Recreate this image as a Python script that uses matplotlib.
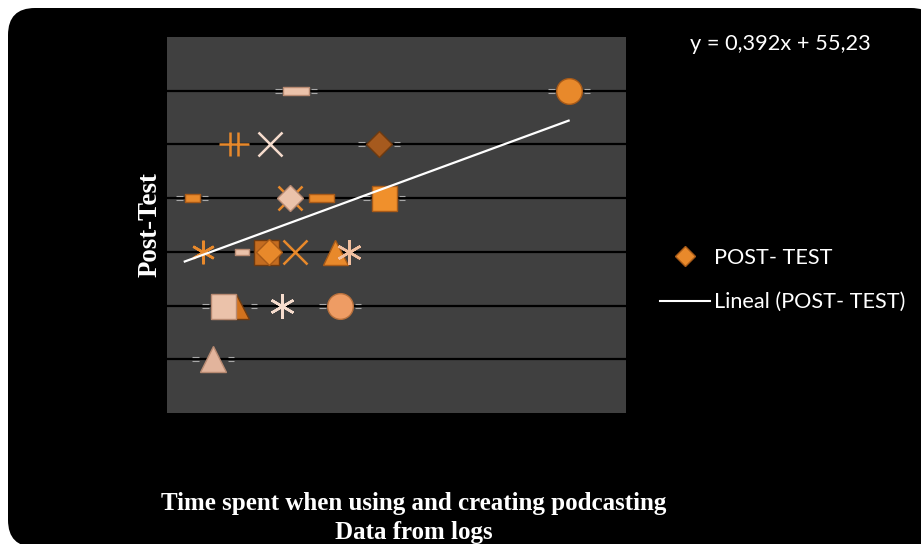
import numpy as np
import matplotlib
matplotlib.use("Agg")
import matplotlib.pyplot as plt
from matplotlib.path import Path
from matplotlib.patches import FancyBboxPatch
from matplotlib.lines import Line2D

# ---------------- data ----------------
post_test_x = [52.4, 100.0,
               41.6, 47.9, 66.9,
               34.3, 51.4, 51.4, 56.8, 67.8,
               36.3, 43.1, 47.3, 47.8, 52.3, 59.3, 61.8,
               42.0, 39.7, 50.1, 60.2,
               38.1]
post_test_y = [100, 100,
               90, 90, 90,
               80, 80, 80, 80, 80,
               70, 70, 70, 70, 70, 70, 70,
               60, 60, 60, 60,
               50]
trend_slope = 0.392
trend_intercept = 55.23
trend_x_range = [33.1, 100.0]
equation_label = "y = 0,392x + 55,23"
series_label = "POST- TEST"
trend_label = "Lineal (POST- TEST)"
y_label = "Post-Test"
x_label = "Time spent when using and creating podcasting\nData from logs"
x_limits = (30, 110)
y_limits = (40, 110)
y_grid = [50, 60, 70, 80, 90, 100]

# ---------------- marker shapes ----------------
def rect_marker(ratio):
    return Path([(-1, -ratio), (1, -ratio), (1, ratio), (-1, ratio), (-1, -ratio)],
                [Path.MOVETO, Path.LINETO, Path.LINETO, Path.LINETO, Path.CLOSEPOLY])

double_plus = Path([(-1, 0), (1, 0), (-0.26, -0.77), (-0.26, 0.77), (0.26, -0.77), (0.26, 0.77)],
                   [Path.MOVETO, Path.LINETO, Path.MOVETO, Path.LINETO, Path.MOVETO, Path.LINETO])

def side_marks(hw, left=True, right=True):
    # little grey "=" marks beside a marker, hw = half width in px
    a, b, d = (hw + 1.5), (hw + 8.0), 1.6
    verts, codes = [], []
    sides = ([-1] if left else []) + ([1] if right else [])
    for s in sides:
        for yy in (-d, d):
            verts += [(s * a / b, yy / b), (s * 1.0, yy / b)]
            codes += [Path.MOVETO, Path.LINETO]
    return Path(verts, codes), 2 * b * 0.72

ORANGE = "#E8892B"
ORANGE_E = "#A85A18"
DARK = "#A65A1E"
DARK_E = "#6E3A10"
PEACH = "#EBC2AA"
PEACH_E = "#B88A72"
LIGHT = "#F6DCCD"

asterisk = (6, 2, 0)
# one style per point (same order as data)
styles = [
    dict(marker=rect_marker(0.3), ms=18.7, fc=PEACH, ec=PEACH_E, marks=13),
    dict(marker="o", ms=18.5, fc=ORANGE, ec=ORANGE_E, marks=13),
    dict(marker=double_plus, ms=22, fc="none", ec=ORANGE, lw=1.8),
    dict(marker="x", ms=17, fc="none", ec=LIGHT, lw=1.8),
    dict(marker="D", ms=13.5, fc=DARK, ec=DARK_E, marks=13),
    dict(marker=rect_marker(0.47), ms=10.8, fc=ORANGE, ec=ORANGE_E, marks=8),
    dict(marker="x", ms=17, fc="none", ec=ORANGE, lw=1.8),
    dict(marker="D", ms=13, fc=PEACH, ec=PEACH_E),
    dict(marker=rect_marker(0.28), ms=18, fc=ORANGE, ec=ORANGE_E),
    dict(marker="s", ms=18, fc="#F0902C", ec=ORANGE_E, marks=13),
    dict(marker=asterisk, ms=17, fc="none", ec=ORANGE, lw=1.8),
    dict(marker=rect_marker(0.47), ms=10.5, fc=PEACH, ec=PEACH_E),
    dict(marker="s", ms=18, fc="#C46C20", ec=DARK_E),
    dict(marker="D", ms=13.5, fc=ORANGE, ec=ORANGE_E),
    dict(marker="x", ms=17, fc="none", ec=ORANGE, lw=1.8),
    dict(marker="^", ms=18, fc=ORANGE, ec=ORANGE_E),
    dict(marker=asterisk, ms=18, fc="none", ec="#F2C0A0", lw=1.8),
    dict(marker="^", ms=18, fc="#D2721E", ec=DARK_E, marks_r=13),
    dict(marker="s", ms=18, fc=PEACH, ec=PEACH_E, marks_l=13),
    dict(marker=asterisk, ms=18, fc="none", ec=LIGHT, lw=1.8),
    dict(marker="o", ms=18.5, fc="#EE9C64", ec="#B8703C", marks=13),
    dict(marker="^", ms=18.5, fc="#E2B49C", ec=PEACH_E, marks=13),
]

# ---------------- figure ----------------
fig = plt.figure(figsize=(9.21, 5.44), dpi=100, facecolor="white")
bg = FancyBboxPatch((0.08, -0.03), 9.30, 5.39,
                    boxstyle="round,pad=0,rounding_size=0.27",
                    transform=fig.dpi_scale_trans, facecolor="black",
                    edgecolor="none", zorder=-10)
fig.patches.append(bg)

ax = fig.add_axes([167 / 921, 1 - 413 / 544, (626 - 167) / 921, (413 - 37) / 544])
ax.set_facecolor("#404040")
ax.set_xlim(*x_limits)
ax.set_ylim(*y_limits)
for sp in ax.spines.values():
    sp.set_visible(False)
ax.set_xticks([])
ax.set_yticks(y_grid)
ax.tick_params(axis="y", length=0, labelleft=False)
ax.yaxis.grid(True, color="black", linewidth=1.6)
ax.set_axisbelow(True)

for i, (xv, yv, st) in enumerate(zip(post_test_x, post_test_y, styles)):
    ax.plot([xv], [yv], linestyle="none", marker=st["marker"], markersize=st["ms"],
            markerfacecolor=st["fc"], markeredgecolor=st["ec"],
            markeredgewidth=st.get("lw", 1.0), zorder=3 + i * 0.01)
    for key, l, r in (("marks", True, True), ("marks_l", True, False), ("marks_r", False, True)):
        if key in st:
            p, msz = side_marks(st[key], l, r)
            ax.plot([xv], [yv], linestyle="none", marker=p, markersize=msz,
                    markerfacecolor="none", markeredgecolor="#A8A8A8",
                    markeredgewidth=0.8, zorder=2.5)

xt = np.array(trend_x_range)
ax.plot(xt, trend_slope * xt + trend_intercept, color="white", linewidth=1.6, zorder=5)

# ---------------- texts ----------------
fig.text(150 / 921, 1 - 225 / 544, y_label, rotation=90, ha="center", va="center",
         color="white", fontsize=19.4, fontweight="bold", family="Liberation Serif")
fig.text(414 / 921, 1 - 518 / 544, x_label, ha="center", va="center", color="white",
         fontsize=18, fontweight="bold", family="Liberation Serif", linespacing=1.3)
fig.text(780 / 921, 1 - 44 / 544, equation_label, ha="center", va="center",
         color="white", fontsize=15.7, family="Lato")

handles = [Line2D([], [], linestyle="none", marker="D", markersize=10,
                  markerfacecolor=ORANGE, markeredgecolor=ORANGE_E),
           Line2D([], [], color="white", linewidth=1.5)]
leg = fig.legend(handles, [series_label, trend_label], loc="center left",
                 bbox_to_anchor=(640.5 / 921, 1 - 280 / 544), frameon=False,
                 handlelength=2.3, handletextpad=0.18, labelspacing=1.12,
                 prop={"family": "Lato", "size": 15.6})
for t in leg.get_texts():
    t.set_color("white")

fig.savefig("out.png", dpi=100, facecolor="white")
